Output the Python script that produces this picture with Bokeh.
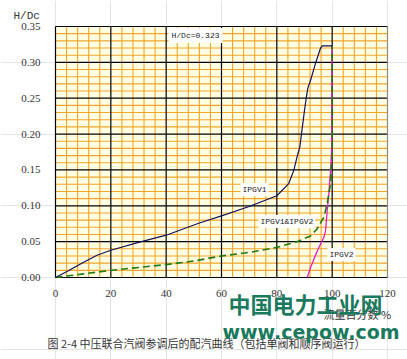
from bokeh.plotting import figure
from bokeh.models import Label
from bokeh.embed import file_html
from bokeh.resources import INLINE

# ---- data ----
ipgv1_x = [0, 5, 10, 15, 20, 30, 40, 52, 60, 70, 80, 84.3, 86.1, 87.3, 88.3, 88.9, 90, 90.7, 91.2, 92.2, 94, 95.8, 96.4, 100]
ipgv1_y = [0, 0.010, 0.021, 0.031, 0.038, 0.049, 0.059, 0.076, 0.086, 0.099, 0.114, 0.131, 0.149, 0.168, 0.182, 0.200, 0.233, 0.252, 0.264, 0.275, 0.299, 0.320, 0.323, 0.323]

both_x = [0, 4, 10, 20, 30, 40, 50, 60, 70, 80, 87.3, 92.2, 94.6, 97, 98.2, 99.4, 100, 100]
both_y = [0, 0.002, 0.005, 0.010, 0.014, 0.018, 0.023, 0.030, 0.035, 0.042, 0.050, 0.058, 0.068, 0.084, 0.103, 0.131, 0.170, 0.323]

ipgv2_x = [91, 92.2, 94.6, 97, 97.6, 98.2, 98.8, 99.4, 99.8, 100]
ipgv2_y = [0, 0.014, 0.037, 0.056, 0.065, 0.093, 0.117, 0.149, 0.177, 0.323]

x_ticks = [0, 20, 40, 60, 80, 100, 120]
x_tick_labels = ["0", "20", "40", "60", "80", "100", "120"]
y_ticks = [0.0, 0.05, 0.10, 0.15, 0.20, 0.25, 0.30, 0.35]
y_tick_labels = ["0.00", "0.05", "0.10", "0.15", "0.20", "0.25", "0.30", "0.35"]

x_minor = [v for v in range(0, 121, 4) if v % 20 != 0]
y_minor = [i / 100 for i in range(0, 36) if i % 5 != 0]

# ---- layout: the frame covers the whole canvas; the plot area is px 55..387 x 26..277 ----
W, H = 407, 359
L, R, T, B = 55, 387, 26, 277
XMIN, XMAX = x_ticks[0], x_ticks[-1]
YMIN, YMAX = y_ticks[0], y_ticks[-1]
kx = (XMAX - XMIN) / (R - L)
ky = (YMAX - YMIN) / (B - T)
x_range = (XMIN - L * kx, XMIN + (W - L) * kx)
y_range = (YMIN - (H - B) * ky, YMIN + B * ky)

def dx(px):
    return XMIN + (px - L) * kx

def dy(py):
    return YMIN + (B - py) * ky

p = figure(width=W, height=H, x_range=x_range, y_range=y_range,
           output_backend="svg", toolbar_location=None,
           x_axis_location=None, y_axis_location=None,
           min_border=0)
p.outline_line_color = None
p.background_fill_color = "white"
p.border_fill_color = "white"

# plot area background
p.quad(left=[XMIN], right=[XMAX], bottom=[YMIN], top=[YMAX],
       fill_color="#FFFFE4", line_color=None)

# minor grid (orange)
p.segment(x0=x_minor, y0=[YMIN] * len(x_minor), x1=x_minor, y1=[YMAX] * len(x_minor),
          line_color="#F2A52A", line_width=1.1)
p.segment(x0=[XMIN] * len(y_minor), y0=y_minor, x1=[XMAX] * len(y_minor), y1=y_minor,
          line_color="#F2A52A", line_width=1.1)
# major grid (black); right border grey
xm = x_ticks[:-1]
p.segment(x0=xm, y0=[YMIN] * len(xm), x1=xm, y1=[YMAX] * len(xm),
          line_color="black", line_width=1.2)
p.segment(x0=[XMIN] * len(y_ticks), y0=y_ticks, x1=[XMAX] * len(y_ticks), y1=y_ticks,
          line_color="black", line_width=1.2)
p.segment(x0=[XMAX], y0=[YMIN], x1=[XMAX], y1=[YMAX], line_color="#8a8a8a", line_width=1.2)

# tick labels
p.text(x=x_ticks, y=[YMIN] * len(x_ticks), text=x_tick_labels, y_offset=16,
       text_align="center", text_baseline="middle", text_font="Liberation Mono",
       text_font_size="11px", text_color="#333333")
p.text(x=[XMIN] * len(y_ticks), y=y_ticks, text=y_tick_labels, x_offset=-15,
       text_align="right", text_baseline="middle", text_font="Liberation Mono",
       text_font_size="11px", text_color="#333333")

# curves
p.line(ipgv2_x, ipgv2_y, line_color="#E81CC8", line_width=1.3)
p.line(both_x, both_y, line_color="#1E7A10", line_width=1.6, line_dash="7 4")
p.line(ipgv1_x, ipgv1_y, line_color="#12125A", line_width=1.2)

small = dict(text_font="Liberation Mono", text_font_size="8px", text_color="#222222",
             background_fill_color="white", text_baseline="middle", text_align="left")
p.add_layout(Label(x=dx(168), y=dy(35), text="H/Dc=0.323", padding=3, **small))
p.add_layout(Label(x=dx(240), y=dy(189), text="IPGV1", padding=2, **small))
p.add_layout(Label(x=dx(258), y=dy(221), text="IPGV1&IPGV2", padding=2, **small))
p.add_layout(Label(x=dx(327), y=dy(254), text="IPGV2", padding=2, **small))

def txt(px, py, text, **kw):
    p.add_layout(Label(x=dx(px), y=dy(py), text=text, text_baseline="middle", **kw))

txt(13, 15, "H/Dc", text_font="Liberation Mono", text_font_size="11px", text_color="#333333")
txt(323, 313, "流量百分数 %", text_font="Noto Sans CJK SC", text_font_size="11px", text_color="#333333")
txt(47, 342, "图 2-4  中压联合汽阀参调后的配汽曲线（包括单阀和顺序阀运行）",
    text_font="Noto Sans CJK SC", text_font_size="11px", text_color="#333333")
txt(228, 302, "中国电力工业网", text_font="Noto Sans CJK SC", text_font_size="22px",
    text_font_style="bold", text_color="#1B7A5E")
txt(222, 331, "www.cepow.com", text_font="DejaVu Sans", text_font_size="19px",
    text_font_style="bold", text_color="#1B7A5E")

open("out.html", "w").write(file_html(p, INLINE))
